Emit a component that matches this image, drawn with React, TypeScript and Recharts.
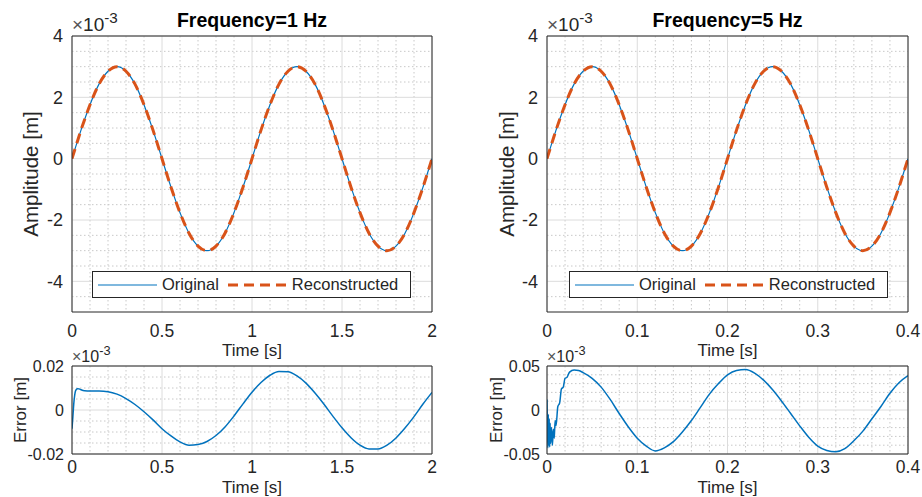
import React from "react"
import { LineChart, Line, XAxis, YAxis, CartesianGrid, Legend, Label } from "recharts"

const FONT = '"Liberation Sans", Arial, Helvetica, sans-serif'
const INK = "#262626"
const BLUE = "#0072BD"
const ORANGE = "#D95319"
const GRID_MAJOR = "#dcdcdc"
const GRID_MINOR = "#c8c8c8"

// top row: time axes [s]
const time1Hz = [
  0, 0.05, 0.1, 0.15, 0.2, 0.25, 0.3, 0.35, 0.4, 0.45, 0.5, 0.55, 0.6, 0.65, 0.7, 0.75, 0.8, 0.85, 0.9, 0.95, 1,
  1.05, 1.1, 1.15, 1.2, 1.25, 1.3, 1.35, 1.4, 1.45, 1.5, 1.55, 1.6, 1.65, 1.7, 1.75, 1.8, 1.85, 1.9, 1.95, 2,
]
const time5Hz = [
  0, 0.01, 0.02, 0.03, 0.04, 0.05, 0.06, 0.07, 0.08, 0.09, 0.1, 0.11, 0.12, 0.13, 0.14, 0.15, 0.16, 0.17, 0.18, 0.19, 0.2,
  0.21, 0.22, 0.23, 0.24, 0.25, 0.26, 0.27, 0.28, 0.29, 0.3, 0.31, 0.32, 0.33, 0.34, 0.35, 0.36, 0.37, 0.38, 0.39, 0.4,
]

// amplitudes, x1e-3 m
const original1Hz = [
  0, 0.93, 1.76, 2.43, 2.85, 3, 2.85, 2.43, 1.76, 0.93, 0, -0.93, -1.76, -2.43, -2.85, -3, -2.85, -2.43, -1.76, -0.93, 0,
  0.93, 1.76, 2.43, 2.85, 3, 2.85, 2.43, 1.76, 0.93, 0, -0.93, -1.76, -2.43, -2.85, -3, -2.85, -2.43, -1.76, -0.93, 0,
]
const reconstructed1Hz = [
  0, 0.93, 1.76, 2.43, 2.85, 3, 2.85, 2.43, 1.76, 0.93, 0, -0.93, -1.76, -2.43, -2.85, -3, -2.85, -2.43, -1.76, -0.93, 0,
  0.93, 1.76, 2.43, 2.85, 3, 2.85, 2.43, 1.76, 0.93, 0, -0.93, -1.76, -2.43, -2.85, -3, -2.85, -2.43, -1.76, -0.93, 0,
]
const original5Hz = [
  0, 0.93, 1.76, 2.43, 2.85, 3, 2.85, 2.43, 1.76, 0.93, 0, -0.93, -1.76, -2.43, -2.85, -3, -2.85, -2.43, -1.76, -0.93, 0,
  0.93, 1.76, 2.43, 2.85, 3, 2.85, 2.43, 1.76, 0.93, 0, -0.93, -1.76, -2.43, -2.85, -3, -2.85, -2.43, -1.76, -0.93, 0,
]
const reconstructed5Hz = [
  0, 0.93, 1.76, 2.43, 2.85, 3, 2.85, 2.43, 1.76, 0.93, 0, -0.93, -1.76, -2.43, -2.85, -3, -2.85, -2.43, -1.76, -0.93, 0,
  0.93, 1.76, 2.43, 2.85, 3, 2.85, 2.43, 1.76, 0.93, 0, -0.93, -1.76, -2.43, -2.85, -3, -2.85, -2.43, -1.76, -0.93, 0,
]

// bottom row: reconstruction error, x1e-3 m
const errorTime1Hz = [
  0, 0.005, 0.01, 0.015, 0.02, 0.03, 0.04, 0.05, 0.07, 0.1, 0.15, 0.2, 0.25, 0.3, 0.35, 0.4, 0.45, 0.5, 0.55, 0.6,
  0.65, 0.7, 0.75, 0.8, 0.85, 0.9, 0.95, 1, 1.05, 1.1, 1.15, 1.2, 1.25, 1.3, 1.35, 1.4, 1.45, 1.5, 1.55, 1.6, 1.65,
  1.7, 1.75, 1.8, 1.85, 1.9, 1.95, 2,
]
const error1Hz = [
  -0.0085, -0.003, 0.003, 0.0068, 0.0088, 0.0097, 0.0096, 0.0092, 0.0087, 0.0086, 0.0086, 0.0083, 0.0072, 0.0052,
  0.0025, -0.0008, -0.0045, -0.0085, -0.0118, -0.0145, -0.016, -0.0157, -0.0143, -0.0116, -0.0077, -0.0027, 0.0028,
  0.0081, 0.0125, 0.0158, 0.0175, 0.0174, 0.0155, 0.0122, 0.0077, 0.0026, -0.0029, -0.0081, -0.0126, -0.016, -0.0177,
  -0.0177, -0.016, -0.0127, -0.0082, -0.003, 0.0027, 0.008,
]
const errorTime5Hz = [
  0, 0.0005, 0.001, 0.0015, 0.002, 0.0025, 0.003, 0.0035, 0.004, 0.005, 0.006, 0.007, 0.008, 0.009, 0.01, 0.012,
  0.014, 0.016, 0.018, 0.02, 0.022, 0.025, 0.03, 0.035, 0.04, 0.05, 0.06, 0.07, 0.08, 0.09, 0.1, 0.11, 0.12, 0.13,
  0.14, 0.15, 0.16, 0.17, 0.18, 0.19, 0.2, 0.21, 0.22, 0.23, 0.24, 0.25, 0.26, 0.27, 0.28, 0.29, 0.3, 0.31, 0.32,
  0.33, 0.34, 0.35, 0.36, 0.37, 0.38, 0.39, 0.4,
]
const error5Hz = [
  0.012, -0.025, -0.043, -0.005, -0.04, -0.01, -0.042, -0.015, -0.038, -0.02, -0.04, -0.022, -0.032, -0.012, -0.018,
  0.004, 0.008, 0.024, 0.026, 0.036, 0.037, 0.043, 0.0455, 0.0448, 0.0425, 0.036, 0.026, 0.012, -0.004, -0.019,
  -0.032, -0.041, -0.0465, -0.043, -0.036, -0.025, -0.012, 0.003, 0.018, 0.03, 0.04, 0.045, 0.046, 0.042, 0.034,
  0.023, 0.01, -0.004, -0.018, -0.031, -0.041, -0.046, -0.0475, -0.044, -0.035, -0.024, -0.01, 0.004, 0.019, 0.031,
  0.039,
]

// ticks and grid
const xTicks1Hz = [0, 0.5, 1, 1.5, 2]
const xMinor1Hz = [0.1, 0.2, 0.3, 0.4, 0.6, 0.7, 0.8, 0.9, 1.1, 1.2, 1.3, 1.4, 1.6, 1.7, 1.8, 1.9]
const xTicks5Hz = [0, 0.1, 0.2, 0.3, 0.4]
const xMinor5Hz = [0.02, 0.04, 0.06, 0.08, 0.12, 0.14, 0.16, 0.18, 0.22, 0.24, 0.26, 0.28, 0.32, 0.34, 0.36, 0.38]
const ampTicks = [-4, -2, 0, 2, 4]
const ampMinor = [-4.5, -3.5, -3, -2.5, -1.5, -1, -0.5, 0.5, 1, 1.5, 2.5, 3, 3.5]
const errTicks1Hz = [-0.02, 0, 0.02]
const errMinor1Hz = [-0.015, -0.01, -0.005, 0.005, 0.01, 0.015]
const errTicks5Hz = [-0.05, 0, 0.05]
const errMinor5Hz = [-0.04, -0.03, -0.02, -0.01, 0.01, 0.02, 0.03, 0.04]

const rows = (t: number[], a: number[], b?: number[]) =>
  t.map((v, i) => (b ? { t: v, orig: a[i], recon: b[i] } : { t: v, err: a[i] }))

function Multiplier({ viewBox, size, lift }: any) {
  const x = viewBox.x
  const y = viewBox.y + viewBox.height - lift
  return (
    <text x={x} y={y} fill={INK} fontFamily={FONT} fontSize={size}>
      <tspan fill="#555">×</tspan>
      <tspan>10</tspan>
      <tspan dy={-size * 0.42} fontSize={size * 0.8}>-3</tspan>
    </text>
  )
}

function LegendBox({ payload }: any) {
  const items = (payload || []) as any[]
  return (
    <div
      style={{
        boxSizing: "border-box",
        width: 319,
        height: 27,
        border: `1px solid ${INK}`,
        background: "#fff",
        display: "flex",
        alignItems: "center",
        paddingLeft: 5,
        fontFamily: FONT,
        fontSize: 16.5,
        color: INK,
        lineHeight: 1,
      }}
    >
      {items.map((entry, i) => (
        <div key={entry.value} style={{ display: "flex", alignItems: "center", marginLeft: i === 0 ? 0 : 9 }}>
          <svg width={59} height={8} style={{ display: "block" }}>
            <line
              x1={0}
              x2={59}
              y1={4}
              y2={4}
              stroke={entry.color}
              strokeWidth={entry.payload?.strokeWidth ?? 1}
              strokeDasharray={entry.payload?.strokeDasharray}
            />
          </svg>
          <span style={{ marginLeft: 5 }}>{entry.value}</span>
        </div>
      ))}
    </div>
  )
}

function Panel(p: any) {
  const yLabelContent = (lp: any) => {
    const vb = lp.viewBox
    const cx = vb.x + p.yLabelX
    const cy = vb.y + vb.height / 2
    return (
      <text
        x={cx}
        y={cy}
        transform={`rotate(-90 ${cx} ${cy})`}
        textAnchor="middle"
        dominantBaseline="central"
        fill={INK}
        fontFamily={FONT}
        fontSize={p.yLabelSize}
      >
        {p.yLabel}
      </text>
    )
  }
  return (
    <div style={{ position: "absolute", left: p.left, top: p.top }}>
      <LineChart width={p.width} height={p.height} data={p.data} margin={{ top: 0, right: p.rightGap, bottom: 0, left: 0 }}>
        <CartesianGrid stroke={GRID_MINOR} strokeDasharray="1.5 2.5" verticalValues={p.xMinor} horizontalValues={p.yMinor} />
        <CartesianGrid stroke={GRID_MAJOR} verticalValues={p.xTicks} horizontalValues={p.yTicks} />
        <XAxis
          dataKey="t"
          type="number"
          domain={p.xDomain}
          ticks={p.xTicks}
          interval={0}
          allowDataOverflow
          tickLine={false}
          tickSize={0}
          tickMargin={p.xTickGap}
          height={p.bottomAxis}
          stroke={INK}
          tick={{ fill: INK, fontSize: 17.5, fontFamily: FONT }}
        >
          <Label value="Time [s]" position="insideBottom" offset={p.xLabelOffset} fill={INK} fontSize={17} fontFamily={FONT} />
        </XAxis>
        <XAxis
          xAxisId="top"
          orientation="top"
          type="number"
          domain={p.xDomain}
          allowDataOverflow
          tick={false}
          tickLine={false}
          height={p.topAxis}
          stroke={INK}
        >
          {p.title && (
            <Label value={p.title} position="insideBottom" offset={9} fill="#000" fontSize={19.5} fontWeight="bold" fontFamily={FONT} />
          )}
          <Label content={(lp: any) => <Multiplier viewBox={lp.viewBox} size={p.multSize} lift={p.multLift} />} />
        </XAxis>
        <YAxis
          type="number"
          domain={p.yDomain}
          ticks={p.yTicks}
          interval={0}
          allowDataOverflow
          tickLine={false}
          tickSize={0}
          tickMargin={p.yTickGap}
          width={p.yAxisWidth}
          stroke={INK}
          tick={{ fill: INK, fontSize: p.yTickSize, fontFamily: FONT }}
        >
          <Label content={yLabelContent} />
        </YAxis>
        <YAxis yAxisId="right" orientation="right" type="number" domain={p.yDomain} allowDataOverflow tick={false} tickLine={false} width={1} stroke={INK} />
        {p.series.map((s: any) => (
          <Line
            key={s.key}
            dataKey={s.key}
            name={s.name}
            type={s.curve}
            stroke={s.color}
            strokeWidth={s.width}
            strokeDasharray={s.dash}
            dot={false}
            activeDot={false}
            isAnimationActive={false}
          />
        ))}
        {p.legendAt && (
          <Legend
            content={<LegendBox />}
            layout="horizontal"
            verticalAlign="middle"
            align="center"
            wrapperStyle={{ left: p.legendAt[0], top: p.legendAt[1], width: "auto", height: "auto" }}
          />
        )}
      </LineChart>
    </div>
  )
}

const ampSeries = [
  { key: "orig", name: "Original", color: BLUE, width: 1.2, curve: "natural" },
  { key: "recon", name: "Reconstructed", color: ORANGE, width: 3, dash: "10 6", curve: "natural" },
]
const errSeries = [{ key: "err", name: "Error", color: BLUE, width: 1.5, curve: "monotone" }]

export default function App() {
  return (
    <div style={{ position: "absolute", left: 0, top: 0, width: 922, height: 497, background: "#fff", fontFamily: FONT }}>
      <Panel
        left={0} top={0} width={461} height={360} rightGap={28} yAxisWidth={72} topAxis={36} bottomAxis={48}
        data={rows(time1Hz, original1Hz, reconstructed1Hz)} series={ampSeries}
        xDomain={[0, 2]} xTicks={xTicks1Hz} xMinor={xMinor1Hz} yDomain={[-5, 4]} yTicks={ampTicks} yMinor={ampMinor}
        xTickGap={13} xLabelOffset={4} yTickGap={9} yTickSize={18} yLabel="Amplitude [m]" yLabelX={30} yLabelSize={20.5}
        title="Frequency=1 Hz" multSize={19} multLift={5} legendAt={[92, 271]}
      />
      <Panel
        left={461} top={0} width={461} height={360} rightGap={13} yAxisWidth={86} topAxis={36} bottomAxis={48}
        data={rows(time5Hz, original5Hz, reconstructed5Hz)} series={ampSeries}
        xDomain={[0, 0.4]} xTicks={xTicks5Hz} xMinor={xMinor5Hz} yDomain={[-5, 4]} yTicks={ampTicks} yMinor={ampMinor}
        xTickGap={13} xLabelOffset={4} yTickGap={9} yTickSize={18} yLabel="Amplitude [m]" yLabelX={45} yLabelSize={20.5}
        title="Frequency=5 Hz" multSize={19} multLift={5} legendAt={[108, 271]}
      />
      <Panel
        left={0} top={320} width={461} height={177} rightGap={28} yAxisWidth={72} topAxis={46} bottomAxis={43}
        data={rows(errorTime1Hz, error1Hz)} series={errSeries}
        xDomain={[0, 2]} xTicks={xTicks1Hz} xMinor={xMinor1Hz} yDomain={[-0.02, 0.02]} yTicks={errTicks1Hz} yMinor={errMinor1Hz}
        xTickGap={7} xLabelOffset={4} yTickGap={8} yTickSize={16} yLabel="Error [m]" yLabelX={20.5} yLabelSize={17}
        multSize={16} multLift={4.5}
      />
      <Panel
        left={461} top={320} width={461} height={177} rightGap={13} yAxisWidth={86} topAxis={46} bottomAxis={43}
        data={rows(errorTime5Hz, error5Hz)} series={errSeries}
        xDomain={[0, 0.4]} xTicks={xTicks5Hz} xMinor={xMinor5Hz} yDomain={[-0.05, 0.05]} yTicks={errTicks5Hz} yMinor={errMinor5Hz}
        xTickGap={7} xLabelOffset={4} yTickGap={7} yTickSize={16} yLabel="Error [m]" yLabelX={35} yLabelSize={17}
        multSize={16} multLift={4.5}
      />
    </div>
  )
}
